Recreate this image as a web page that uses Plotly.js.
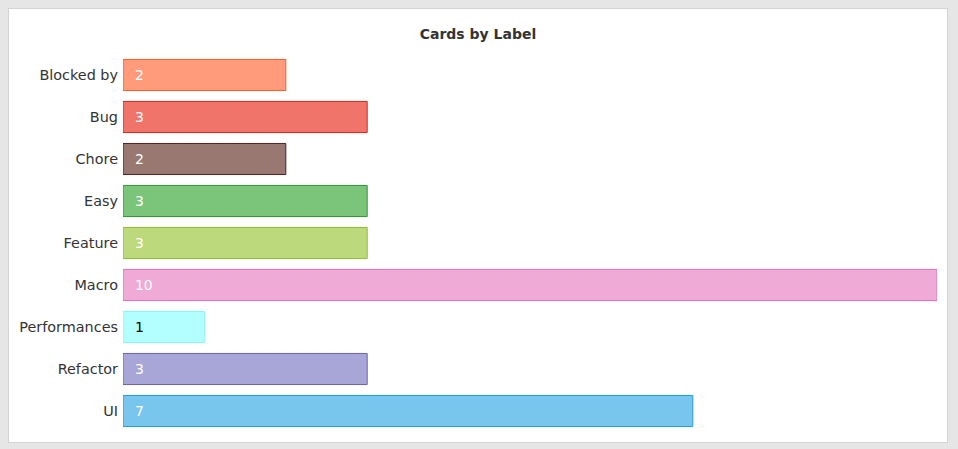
<!DOCTYPE html>
<html>
<head>
<meta charset="utf-8">
<script src="https://cdn.plot.ly/plotly-3.0.1.min.js"></script>
<style>
  html, body { margin: 0; padding: 0; background: #e6e6e6; width: 958px; height: 449px; overflow: hidden; }
  #card { position: absolute; left: 8px; top: 8px; width: 938px; height: 433px; background: #fff; border: 1px solid #d3d3d3; }
  #chart { width: 938px; height: 433px; }
</style>
</head>
<body>
<div id="card"><div id="chart"></div></div>
<script>
const labels = ["Blocked by", "Bug", "Chore", "Easy", "Feature", "Macro", "Performances", "Refactor", "UI"];
const counts = [2, 3, 2, 3, 3, 10, 1, 3, 7];
const fillColors = ["#ff9a7a", "#f0746a", "#997872", "#7bc57b", "#bcd97c", "#f0aad6", "#b3ffff", "#a8a6d7", "#78c6ee"];
const lineColors = ["#ff5a26", "#e2231a", "#4a2320", "#2b9b2b", "#8fc02c", "#e86dbd", "#84f7f7", "#6c60b6", "#1f9be0"];
const textColors = ["#ffffff", "#ffffff", "#ffffff", "#ffffff", "#ffffff", "#ffffff", "#000000", "#ffffff", "#ffffff"];

const trace = {
  type: "bar",
  orientation: "h",
  x: counts,
  y: labels,
  text: counts.map(v => "\u00a0\u00a0" + v),
  textposition: "inside",
  insidetextanchor: "start",
  textangle: 0,
  insidetextfont: { family: "DejaVu Sans", size: 14, color: textColors },
  marker: { color: fillColors, line: { color: lineColors, width: 1 } },
  hoverinfo: "none"
};

const layout = {
  width: 938,
  height: 433,
  paper_bgcolor: "rgba(0,0,0,0)",
  plot_bgcolor: "rgba(0,0,0,0)",
  margin: { l: 114, r: 10, t: 45, b: 10 },
  font: { family: "DejaVu Sans", size: 14, color: "#333333" },
  title: {
    text: "<b>Cards by Label</b>",
    font: { family: "DejaVu Sans", size: 14, color: "#333333" },
    x: 0.5, xanchor: "center",
    yref: "container", y: 1 - 25 / 433, yanchor: "middle"
  },
  bargap: 0.26,
  showlegend: false,
  xaxis: { range: [0, 10], showgrid: false, zeroline: false, showticklabels: false, showline: false, ticks: "" },
  yaxis: { autorange: "reversed", type: "category", showgrid: false, zeroline: false, showline: false, ticks: "",
           tickfont: { family: "DejaVu Sans", size: 14.4, color: "#333333" }, ticklabelstandoff: 4 }
};

Plotly.newPlot("chart", [trace], layout, { displayModeBar: false, staticPlot: true });
</script>
</body>
</html>
